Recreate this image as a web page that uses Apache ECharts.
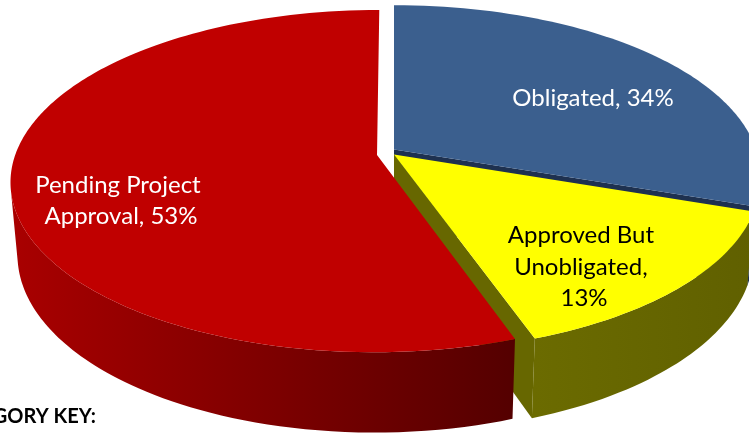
<!DOCTYPE html>
<html>
<head>
<meta charset="utf-8">
<script src="https://cdn.jsdelivr.net/npm/echarts@6/dist/echarts.min.js"></script>
<style>
html, body { margin: 0; padding: 0; background: #fff; }
#main { width: 749px; height: 434px; }
</style>
</head>
<body>
<div id="main"></div>
<script>
"use strict";

// slices, clockwise from 12 o'clock
let categories = ['Obligated', 'Approved But Unobligated', 'Pending Project Approval'];
let shares = [34, 13, 53];

// colours
let topColors = ['#3b5f8e', '#ffff00', '#c00000'];
let sideLight = ['#1e3150', '#6b6b00', '#a90000'];
let sideDark = ['#1e3150', '#606000', '#540000'];
let faceColors = ['#1e3150', '#676700', '#700000'];
let labelColors = ['#ffffff', '#000000', '#ffffff'];

// explosion / lift per slice (pie radius = 1)
let explode = [0, 0, 0.047];
let lift = [0.0156, 0, 0];

// label boxes: centre x, centre y, wrap width
let labelBox = [[593, 98, 210], [584, 267, 170], [121, 201, 190]];

// camera
let view = {cx: 394, cy: 154.5, F: 2094, D: 5.79, tilt: 27.5, h: 0.2276, warp: 0.54};
let sa = Math.sin(view.tilt * Math.PI / 180);
let ca = Math.cos(view.tilt * Math.PI / 180);
let cam = [0, view.D * sa, -view.D * ca];

let total = shares.reduce((a, b) => a + b, 0);

function warp(t) { // data angle -> drawn angle
    return Math.atan2(Math.sin(t), view.warp * Math.cos(t));
}

function proj(x, y, z) {
    let yc = z * sa + y * ca;
    let zc = z * ca - y * sa;
    let d = view.D + zc;
    return [view.cx + view.F * x / d, view.cy - view.F * yc / d];
}

function renderSlice(params, api) {
    let i = api.value(0);
    let before = 0;
    for (let k = 0; k < i; k++) before += shares[k];
    let t0 = before / total * 2 * Math.PI;
    let t1 = (before + shares[i]) / total * 2 * Math.PI;
    let pm = warp((t0 + t1) / 2);
    let ox = explode[i] * Math.sin(pm), oz = explode[i] * Math.cos(pm);
    let yt = lift[i], yb = -view.h;

    let rim = (t, y) => {
        let p = warp(t);
        return proj(ox + Math.sin(p), y, oz + Math.cos(p));
    };
    let children = [];

    // radial faces
    [[t0, -1], [t1, 1]].forEach(([t, s]) => {
        let p = warp(t) + s * Math.PI / 2;
        let nx = Math.sin(p), nz = Math.cos(p);
        let dot = nx * (cam[0] - ox) + nz * (cam[2] - oz);
        if (dot / view.D > 0.02) {
            children.push({
                type: 'polygon',
                shape: {points: [proj(ox, yt, oz), rim(t, yt), rim(t, yb), proj(ox, yb, oz)]},
                style: {fill: faceColors[i]}
            });
        }
    });

    // outer wall, only the part that faces the camera
    let n = Math.max(8, Math.ceil((t1 - t0) * 180 / Math.PI));
    let seen = [];
    for (let k = 0; k <= n; k++) {
        let t = t0 + (t1 - t0) * k / n;
        let p = warp(t);
        let px = ox + Math.sin(p), pz = oz + Math.cos(p);
        let dot = Math.sin(p) * (cam[0] - px) + Math.cos(p) * (cam[2] - pz);
        if (dot > 0) seen.push(t);
    }
    if (seen.length > 1) {
        let upper = seen.map(t => rim(t, yt));
        let lower = seen.map(t => rim(t, yb)).reverse();
        let xs = upper.map(q => q[0]);
        children.push({
            type: 'polygon',
            shape: {points: upper.concat(lower)},
            style: {
                fill: new echarts.graphic.LinearGradient(Math.min(...xs), 0, Math.max(...xs), 0, [
                    {offset: 0, color: sideLight[i]},
                    {offset: 1, color: sideDark[i]}
                ], true)
            }
        });
    }

    // top
    let pts = [proj(ox, yt, oz)];
    for (let k = 0; k <= n; k++) pts.push(rim(t0 + (t1 - t0) * k / n, yt));
    children.push({type: 'polygon', shape: {points: pts}, style: {fill: topColors[i]}});

    return {type: 'group', children: children};
}

let myChart = echarts.init(document.getElementById('main'));

let option = {
    animation: false,
    graphic: categories.map((name, i) => ({
        type: 'text',
        x: labelBox[i][0],
        y: labelBox[i][1],
        silent: true,
        z: 10,
        style: {
            text: name + ', ' + shares[i] + '%',
            width: labelBox[i][2],
            overflow: 'break',
            align: 'center',
            verticalAlign: 'middle',
            textAlign: 'center',
            textVerticalAlign: 'middle',
            lineHeight: 31.5,
            font: '24px Lato',
            fill: labelColors[i]
        }
    })).concat([{
        type: 'text',
        x: 96,
        y: 417,
        silent: true,
        style: {
            text: 'CATEGORY KEY:',
            align: 'right',
            verticalAlign: 'middle',
            textAlign: 'right',
            textVerticalAlign: 'middle',
            font: 'bold 20px Lato',
            fill: '#000'
        }
    }]),
    series: [{
        type: 'custom',
        coordinateSystem: 'none',
        silent: true,
        renderItem: renderSlice,
        data: categories.map((c, i) => [i])
    }]
};

myChart.setOption(option);
</script>
</body>
</html>
